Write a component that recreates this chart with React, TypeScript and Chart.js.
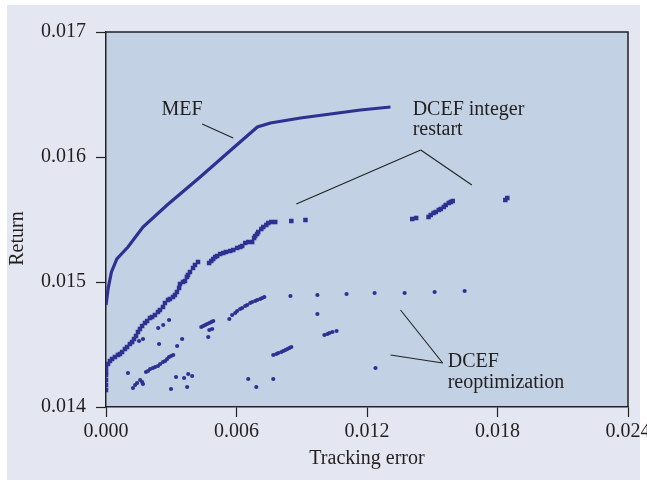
import React, { useEffect, useRef } from "react";
import { Chart, registerables } from "chart.js";

Chart.register(...registerables);

// ---- Data ----
const MEF_X = [0, 0.0001, 0.00025, 0.0005, 0.00088, 0.00101, 0.0017, 0.00281, 0.00433, 0.00585, 0.00696, 0.00756, 0.00894, 0.01032, 0.0117, 0.01308];
const MEF_Y = [0.014816, 0.01495, 0.01508, 0.015184, 0.015256, 0.01528, 0.01544, 0.015616, 0.01584, 0.016072, 0.01624, 0.016272, 0.016312, 0.016344, 0.016376, 0.0164];

const RESTART_X = [
  0, 0, 0, 0, 0,
  0, 0.00009, 0.00018, 0.00028, 0.00041, 0.00055, 0.00064, 0.00074, 0.00087, 0.00097, 0.0011, 0.0012, 0.00129, 0.00138,
  0.00147, 0.00156, 0.00166, 0.00179, 0.00189, 0.00202, 0.00212, 0.00225, 0.00239, 0.00248, 0.00262, 0.00271, 0.00285,
  0.00294, 0.00308, 0.00317, 0.00326, 0.00336, 0.0034, 0.00354, 0.00363, 0.00372, 0.00377, 0.00386, 0.004, 0.00409, 0.00423,
  0.00474, 0.00484, 0.00493, 0.00502, 0.00511, 0.00525, 0.00539, 0.00552, 0.00571, 0.00585, 0.00603, 0.00617, 0.00626,
  0.0064, 0.00654, 0.00672, 0.00681, 0.00686, 0.00695, 0.007, 0.00714, 0.00723, 0.00737, 0.00746, 0.0076, 0.00778,
  0.00852, 0.00917, 0.01408, 0.01426,
  0.01483, 0.01493, 0.01506, 0.01516, 0.0153, 0.01539, 0.01553, 0.01562, 0.01576, 0.01585, 0.01594,
  0.01836, 0.01845,
];
const RESTART_Y = [
  0.014136, 0.014176, 0.014216, 0.014256, 0.01428,
  0.014312, 0.014344, 0.014368, 0.014384, 0.0144, 0.014416, 0.014424, 0.01444, 0.014464, 0.01448, 0.014504, 0.01452, 0.014544, 0.014568,
  0.0146, 0.014624, 0.014648, 0.014672, 0.014688, 0.014712, 0.01472, 0.014736, 0.01476, 0.014776, 0.0148, 0.014832, 0.014856,
  0.014864, 0.01488, 0.014896, 0.01492, 0.014952, 0.014984, 0.015, 0.015008, 0.01504, 0.015056, 0.01508, 0.015112, 0.015136, 0.01516,
  0.015152, 0.015168, 0.015184, 0.0152, 0.015208, 0.015224, 0.015232, 0.01524, 0.015248, 0.015256, 0.015272, 0.01528, 0.015288,
  0.015312, 0.01532, 0.01532, 0.015352, 0.015368, 0.015384, 0.0154, 0.015424, 0.01544, 0.015456, 0.015472, 0.01548, 0.01548,
  0.015488, 0.015496, 0.015504, 0.015512,
  0.01552, 0.015536, 0.015552, 0.01556, 0.015576, 0.015584, 0.0156, 0.015616, 0.015632, 0.01564, 0.015648,
  0.015656, 0.015672,
];

const REOPT_X = [
  0.00101, 0.00124, 0.00134, 0.00143, 0.00157, 0.00166, 0.0017, 0.00152, 0.0017, 0.00244, 0.00327, 0.0035,
  0.00322, 0.00359, 0.00378, 0.00396, 0.00299, 0.00373,
  0.00184, 0.00193, 0.00203, 0.00216, 0.00226, 0.00239, 0.00249, 0.00262, 0.00272, 0.00281, 0.0029, 0.00299, 0.00309,
  0.0024, 0.00263, 0.0029,
  0.00438, 0.00447, 0.00456, 0.00465, 0.00475, 0.00484, 0.00493,
  0.00475, 0.00488, 0.0047, 0.00567, 0.0058,
  0.00594, 0.00603, 0.00617, 0.00626, 0.0064, 0.00649, 0.00663, 0.00672, 0.00686, 0.00695, 0.00709, 0.00718, 0.00728,
  0.00848, 0.00972, 0.01106, 0.01235, 0.01373, 0.01511, 0.01649, 0.00972,
  0.00769, 0.00783, 0.00792, 0.00806, 0.00815, 0.00825, 0.00834, 0.00843, 0.00852,
  0.01004, 0.01018, 0.01027, 0.01041, 0.0106,
  0.00654, 0.00691, 0.00769, 0.01239,
];
const REOPT_Y = [
  0.014272, 0.014152, 0.014176, 0.014192, 0.014216, 0.0142, 0.014184, 0.014528, 0.014544, 0.014504, 0.014488, 0.014544,
  0.01424, 0.014232, 0.014264, 0.014248, 0.014144, 0.01416,
  0.01428, 0.014288, 0.014304, 0.014312, 0.01432, 0.014328, 0.014344, 0.01436, 0.014368, 0.014384, 0.0144, 0.014408, 0.014416,
  0.014632, 0.014656, 0.014696,
  0.01464, 0.014648, 0.014656, 0.014664, 0.014672, 0.01468, 0.014688,
  0.014616, 0.014624, 0.01456, 0.014704, 0.014736,
  0.014752, 0.014768, 0.014784, 0.014792, 0.014808, 0.014816, 0.014832, 0.01484, 0.014848, 0.014856, 0.014864, 0.014872, 0.01488,
  0.014888, 0.014896, 0.014904, 0.014912, 0.014912, 0.01492, 0.014928, 0.014744,
  0.014416, 0.014424, 0.014432, 0.01444, 0.014448, 0.014456, 0.014464, 0.014472, 0.01448,
  0.014576, 0.014584, 0.014592, 0.0146, 0.014608,
  0.014224, 0.01416, 0.014224, 0.014312,
];

const X_TICKS = [0, 0.006, 0.012, 0.018, 0.024];
const Y_TICKS = [0.014, 0.015, 0.016, 0.017];
const X_TITLE = "Tracking error";
const Y_TITLE = "Return";

// annotation labels (data coordinates)
const LABEL_TEXTS = ["MEF", "DCEF integer", "restart", "DCEF", "reoptimization"];
const LABEL_X = [0.0035, 0.0141, 0.0141, 0.01571, 0.01571];
const LABEL_Y = [0.016376, 0.016376, 0.016216, 0.01436, 0.014192];
const LABEL_ALIGN = ["center", "left", "left", "left", "left"];

// leader lines: from (X1, Y1) to (X2, Y2)
const LEADER_X1 = [0.00442, 0.01447, 0.01447, 0.01548, 0.01548];
const LEADER_Y1 = [0.016264, 0.016056, 0.016056, 0.014352, 0.014352];
const LEADER_X2 = [0.00585, 0.00875, 0.01682, 0.01354, 0.01308];
const LEADER_Y2 = [0.016152, 0.015624, 0.015776, 0.014776, 0.014416];

const MARK = "#2e3192";
const FONT = "'Liberation Serif', 'Times New Roman', serif";
const FSIZE = 20;
const TEXT = "#231f20";

const pts = (xs: number[], ys: number[]) => xs.map((x, i) => ({ x, y: ys[i] }));

const decorPlugin = {
  id: "decor",
  beforeDraw(chart: any) {
    const { ctx, chartArea: a, width, height } = chart;
    ctx.save();
    ctx.fillStyle = "#ffffff";
    ctx.fillRect(0, 0, width, height);
    ctx.fillStyle = "#e4e6f1";
    ctx.fillRect(7, 5, width - 14, height - 8);
    ctx.fillStyle = "#c2d2e4";
    ctx.fillRect(a.left, a.top, a.right - a.left, a.bottom - a.top);
    ctx.restore();
  },
  afterDraw(chart: any) {
    const { ctx, chartArea: a, scales } = chart;
    const xs = scales.x;
    const ys = scales.y;
    ctx.save();
    ctx.strokeStyle = "#222";
    ctx.lineWidth = 1.5;
    ctx.beginPath();
    ctx.moveTo(a.left, a.top);
    ctx.lineTo(a.right, a.top);
    ctx.lineTo(a.right, a.bottom);
    ctx.stroke();

    ctx.lineWidth = 1.1;
    for (let i = 0; i < LEADER_X1.length; i++) {
      ctx.beginPath();
      ctx.moveTo(xs.getPixelForValue(LEADER_X1[i]), ys.getPixelForValue(LEADER_Y1[i]));
      ctx.lineTo(xs.getPixelForValue(LEADER_X2[i]), ys.getPixelForValue(LEADER_Y2[i]));
      ctx.stroke();
    }
    ctx.fillStyle = TEXT;
    ctx.font = `${FSIZE}px ${FONT}`;
    ctx.textBaseline = "middle";
    for (let i = 0; i < LABEL_TEXTS.length; i++) {
      ctx.textAlign = LABEL_ALIGN[i] as CanvasTextAlign;
      ctx.fillText(LABEL_TEXTS[i], xs.getPixelForValue(LABEL_X[i]), ys.getPixelForValue(LABEL_Y[i]));
    }
    // y-axis title
    ctx.translate(18, (a.top + a.bottom) / 2 + 19);
    ctx.rotate(-Math.PI / 2);
    ctx.textAlign = "center";
    ctx.fillText(Y_TITLE, 0, 0);
    ctx.restore();
  },
};

export default function App() {
  const ref = useRef<HTMLCanvasElement | null>(null);
  useEffect(() => {
    if (!ref.current) return;
    const chart = new Chart(ref.current, {
      type: "scatter",
      data: {
        datasets: [
          {
            label: "MEF",
            data: pts(MEF_X, MEF_Y),
            showLine: true,
            borderColor: MARK,
            borderWidth: 3.2,
            pointRadius: 0,
            tension: 0,
          },
          {
            label: "DCEF integer restart",
            data: pts(RESTART_X, RESTART_Y),
            pointStyle: "rect",
            pointRadius: 3.2,
            backgroundColor: MARK,
            borderColor: MARK,
            borderWidth: 0,
          },
          {
            label: "DCEF reoptimization",
            data: pts(REOPT_X, REOPT_Y),
            pointStyle: "circle",
            pointRadius: 2.1,
            backgroundColor: MARK,
            borderColor: MARK,
            borderWidth: 0,
          },
        ],
      },
      options: {
        animation: false,
        responsive: false,
        devicePixelRatio: 1,
        layout: { padding: { top: 32, right: 19, left: 0, bottom: 0 } },
        plugins: { legend: { display: false }, tooltip: { enabled: false } },
        scales: {
          x: {
            type: "linear",
            position: "bottom",
            min: 0,
            max: 0.024,
            afterBuildTicks: (s: any) => {
              s.ticks = X_TICKS.map((v) => ({ value: v }));
            },
            afterFit: (s: any) => {
              s.height = 76;
              s.paddingLeft = 0;
              s.paddingRight = 0;
            },
            grid: { display: true, drawOnChartArea: false, drawTicks: true, tickLength: 10, tickColor: "#222", tickWidth: 1.2 },
            border: { display: true, color: "#222", width: 1.5 },
            ticks: {
              font: { family: FONT, size: FSIZE },
              color: TEXT,
              padding: 3,
              maxRotation: 0,
              callback: (v: any) => Number(v).toFixed(3),
            },
            title: {
              display: true,
              text: X_TITLE,
              font: { family: FONT, size: FSIZE },
              color: TEXT,
              padding: { top: 0, bottom: 12 },
            },
          },
          y: {
            type: "linear",
            min: 0.014,
            max: 0.017,
            afterBuildTicks: (s: any) => {
              s.ticks = Y_TICKS.map((v) => ({ value: v }));
            },
            afterFit: (s: any) => {
              s.width = 106;
              s.paddingTop = 0;
              s.paddingBottom = 0;
            },
            grid: { display: true, drawOnChartArea: false, drawTicks: true, tickLength: 10, tickColor: "#222", tickWidth: 1.2 },
            border: { display: true, color: "#222", width: 1.5 },
            ticks: {
              font: { family: FONT, size: FSIZE },
              color: TEXT,
              padding: 10,
              callback: (v: any) => Number(v).toFixed(3),
            },
            title: { display: false },
          },
        },
      },
      plugins: [decorPlugin],
    });
    return () => chart.destroy();
  }, []);
  return (
    <div style={{ position: "absolute", left: 0, top: 0, width: 647, height: 483 }}>
      <canvas ref={ref} width={647} height={483} style={{ display: "block" }} />
    </div>
  );
}
